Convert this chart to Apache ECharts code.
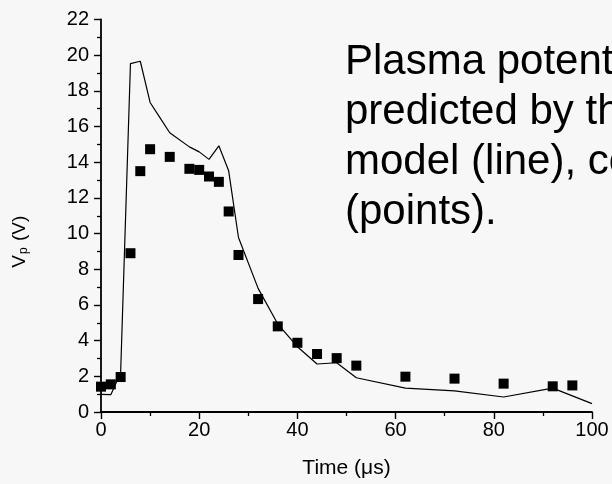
<!DOCTYPE html>
<html>
<head>
<meta charset="utf-8">
<script src="https://cdn.jsdelivr.net/npm/echarts@6/dist/echarts.min.js"></script>
<style>
html,body{margin:0;padding:0;background:#f7f7f7;}
#c{width:612px;height:484px;}
</style>
</head>
<body>
<div id="c"></div>
<script>
// Model (line)
const modelTime = [0,2,4,6,8,10,12,14,18,20,22,24,26,28,32,36,40,44,48,52,62,72,82,92,100];
const modelVp   = [0.99,0.97,2.2,19.53,19.66,17.35,16.5,15.65,14.86,14.58,14.16,14.92,13.52,9.78,6.93,4.93,3.66,2.69,2.76,1.92,1.34,1.18,0.84,1.34,0.47];
// Measured data (points)
const dataTime = [0,2,4,6,8,10,14,18,20,22,24,26,28,32,36,40,44,48,52,62,72,82,92,96];
const dataVp   = [1.42,1.55,1.96,8.9,13.5,14.73,14.3,13.63,13.57,13.2,12.9,11.24,8.8,6.33,4.8,3.88,3.25,3.02,2.6,1.98,1.87,1.59,1.44,1.49];
const xTicks = [0,20,40,60,80,100];
const yTicks = [0,2,4,6,8,10,12,14,16,18,20,22];
const xTitle = 'Time (\u03bcs)';
const caption = 'Plasma potential as\npredicted by the\nmodel (line), compared\n(points).';

const chart = echarts.init(document.getElementById('c'), null, {renderer:'canvas'});
const font = 'Arial, "Liberation Sans", sans-serif';
const axisCommon = {
  axisLine:{show:true, onZero:false, lineStyle:{color:'#000', width:1.8}},
  axisTick:{show:true, inside:false, length:7, lineStyle:{color:'#000', width:1.4}},
  minorTick:{show:true, splitNumber:2, length:4, lineStyle:{color:'#000', width:1.3}},
  splitLine:{show:false},
  axisLabel:{color:'#000', fontSize:20, fontFamily:font}
};
chart.setOption({
  backgroundColor:'#f7f7f7',
  animation:false,
  grid:{left:101, right:20, top:19.5, bottom:72, containLabel:false, outerBoundsMode:'none'},
  xAxis:Object.assign({}, axisCommon, {
    type:'value', min:xTicks[0], max:xTicks[xTicks.length-1], interval:20,
    name:xTitle, nameLocation:'middle', nameGap:46,
    nameTextStyle:{color:'#000', fontSize:21, fontFamily:font},
    axisLabel:Object.assign({}, axisCommon.axisLabel, {margin:8})
  }),
  yAxis:Object.assign({}, axisCommon, {
    type:'value', min:yTicks[0], max:yTicks[yTicks.length-1], interval:2,
    name:'{a|V}{b|p}{a| (V)}', nameLocation:'middle', nameGap:71, nameRotate:90,
    nameTextStyle:{color:'#000', fontFamily:font, padding:[0,52,0,0], rich:{
      a:{fontSize:19, fontFamily:font, color:'#000', lineHeight:21},
      b:{fontSize:12, fontFamily:font, color:'#000', lineHeight:21, padding:[9,1,0,1]}
    }},
    axisLabel:Object.assign({}, axisCommon.axisLabel, {margin:12})
  }),
  graphic:[{
    type:'text', left:345, top:37,
    style:{text:caption, font:'42px Arial, "Liberation Sans", sans-serif', fill:'#000', lineHeight:50}
  }],
  series:[
    {type:'line', data:modelTime.map((t,i)=>[t,modelVp[i]]), showSymbol:false, symbol:'none',
     lineStyle:{color:'#000', width:1.2}, z:2},
    {type:'scatter', data:dataTime.map((t,i)=>[t,dataVp[i]]), symbol:'rect', symbolSize:10,
     itemStyle:{color:'#000', opacity:1}, z:3}
  ]
});
</script>
</body>
</html>
